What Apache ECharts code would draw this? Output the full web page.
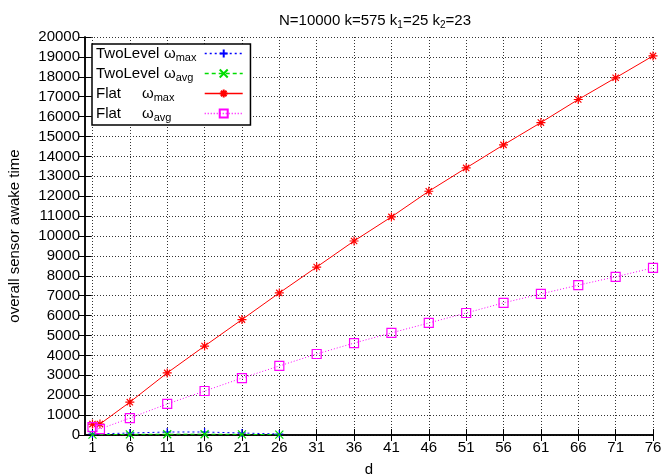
<!DOCTYPE html>
<html><head><meta charset="utf-8">
<script src="https://cdn.jsdelivr.net/npm/echarts@6/dist/echarts.min.js"></script>
<style>html,body{margin:0;padding:0;background:#fff}#c{width:663px;height:474px}</style>
</head><body><div id="c"></div>
<script>
const xTicks = [1, 6, 11, 16, 21, 26, 31, 36, 41, 46, 51, 56, 61, 66, 71, 76];
const twoLevelX = [1, 6, 11, 16, 21, 26];
const twoLevelMax = [50, 100, 150, 150, 100, 50];
const twoLevelAvg = [20, 30, 40, 40, 30, 20];
const flatX = [1, 2, 6, 11, 16, 21, 26, 31, 36, 41, 46, 51, 56, 61, 66, 71, 76];
const flatMax = [550, 550, 1650, 3120, 4470, 5800, 7140, 8440, 9750, 10960, 12250, 13420, 14580, 15700, 16860, 17950, 19050];
const flatAvg = [400, 300, 850, 1560, 2210, 2860, 3470, 4070, 4620, 5130, 5630, 6130, 6640, 7090, 7530, 7950, 8400];
const seriesNames = ['TwoLevel ωmax', 'TwoLevel ωavg', 'Flat ωmax', 'Flat ωavg'];
const legendLabels = [
  '{n1|TwoLevel}{w|ω}{s|max}',
  '{n1|TwoLevel}{w|ω}{s|avg}',
  '{n2|Flat}{w|ω}{s|max}{p| }',
  '{n2|Flat}{w|ω}{s|avg}{p| }'
];

const FONT = 'Liberation Sans';
const COLORS = ['#0000ff', '#00dd00', '#ff0000', '#ff00ff'];
const TYPES = [[2, 3], [4, 3], 'solid', [1, 2]];
const pair = (xs, ys) => xs.map((x, i) => [x, ys[i]]);
const chart = echarts.init(document.getElementById('c'));
const lineAxis = {lineStyle: {color: '#000', width: 1.5}};
const tickInside = {show: true, inside: true, length: 6, lineStyle: {color: '#000', width: 1}};
const base = {fontSize: 15, fontFamily: FONT, color: '#000', align: 'left'};
const legendRich = {
  n1: Object.assign({width: 68}, base),
  n2: Object.assign({width: 46}, base),
  w: Object.assign({}, base),
  s: {fontSize: 11, fontFamily: FONT, color: '#000', padding: [8, 0, 0, 0], width: 24, align: 'left'},
  p: Object.assign({width: 22}, base)
};
const SYMS = ['path://M5,0L5,10M0,5L10,5', 'path://M0,0L10,10M10,0L0,10',
  'path://M5,0L5,10M0,5L10,5M1.5,1.5L8.5,8.5M8.5,1.5L1.5,8.5', 'rect'];
function mk(i, xs, ys, size) {
  const color = COLORS[i], symbol = SYMS[i];
  return {
    name: seriesNames[i], type: 'line', data: pair(xs, ys), symbol, symbolSize: size,
    itemStyle: {color: symbol === 'rect' ? 'rgba(0,0,0,0)' : color, borderColor: color, borderWidth: 1.2},
    lineStyle: {color, width: 1, type: TYPES[i]},
    emphasis: {disabled: true}, animation: false
  };
}
chart.setOption({
  animation: false,
  textStyle: {fontFamily: FONT},
  title: {
    text: 'N=10000 k=575 k{s|1}=25 k{s|2}=23', left: 370, top: 7, textAlign: 'center',
    textStyle: {fontSize: 15, fontWeight: 'normal', fontFamily: FONT, color: '#000',
      rich: {s: {fontSize: 10, fontFamily: FONT, color: '#000', padding: [8, 0, 0, 0]}}}
  },
  grid: {left: 85, right: 10, top: 37, bottom: 39, outerBoundsMode: 'none', containLabel: false},
  legend: {
    orient: 'vertical', left: 92, top: 44, align: 'right',
    backgroundColor: '#fff', borderColor: '#000', borderWidth: 1.5, borderRadius: 0,
    padding: [2, 7, 2, 4], itemGap: 3, itemWidth: 38, itemHeight: 10,
    lineStyle: {width: 1.5},
    data: seriesNames,
    formatter: name => legendLabels[seriesNames.indexOf(name)],
    textStyle: {fontSize: 15, fontFamily: FONT, color: '#000', rich: legendRich}
  },
  xAxis: [{
    type: 'value', min: 0, max: 76, name: 'd', nameLocation: 'middle', nameGap: 27,
    nameTextStyle: {fontSize: 15, color: '#000', fontFamily: FONT},
    axisLine: lineAxis, axisTick: Object.assign({customValues: xTicks}, tickInside),
    axisLabel: {customValues: xTicks, color: '#000', fontSize: 15, fontFamily: FONT, margin: 5},
    splitLine: {show: true, lineStyle: {color: '#333', type: [1, 2], width: 1}}
  }, {
    type: 'value', min: 0, max: 76, position: 'top',
    axisLine: lineAxis, axisTick: Object.assign({customValues: xTicks}, tickInside),
    axisLabel: {show: false, customValues: xTicks}, splitLine: {show: false}
  }],
  yAxis: [{
    type: 'value', min: 0, max: 20000, interval: 1000,
    name: 'overall sensor awake time', nameLocation: 'middle', nameGap: 63, nameRotate: 90,
    nameTextStyle: {fontSize: 15, color: '#000', fontFamily: FONT},
    axisLine: Object.assign({show: true}, lineAxis), axisTick: tickInside,
    axisLabel: {color: '#000', fontSize: 15, fontFamily: FONT, margin: 5, formatter: v => String(v)},
    splitLine: {show: true, lineStyle: {color: '#333', type: [1, 2], width: 1}}
  }, {
    type: 'value', min: 0, max: 20000, interval: 1000, position: 'right',
    axisLine: Object.assign({show: true}, lineAxis), axisTick: tickInside,
    axisLabel: {show: false}, splitLine: {show: false}
  }],
  series: [
    mk(0, twoLevelX, twoLevelMax, 8),
    mk(1, twoLevelX, twoLevelAvg, 8),
    mk(2, flatX, flatMax, 9),
    mk(3, flatX, flatAvg, 9)
  ]
});
</script></body></html>
